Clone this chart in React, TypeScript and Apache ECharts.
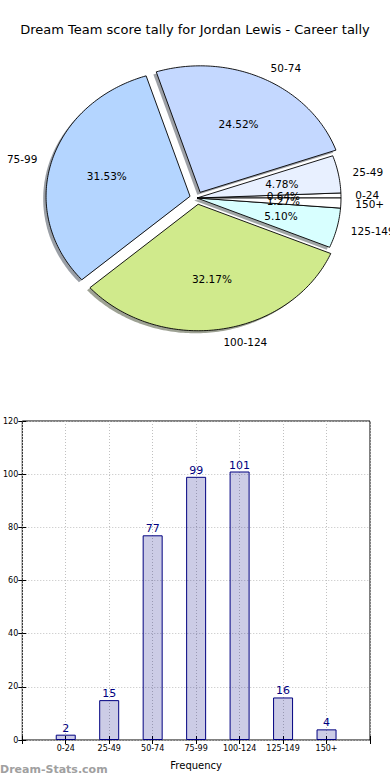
import React, { useEffect, useRef } from 'react';
import * as echarts from 'echarts';

const titleText = 'Dream Team score tally for Jordan Lewis - Career tally';
const categories = ['0-24', '25-49', '50-74', '75-99', '100-124', '125-149', '150+'];
const tallies = [2, 15, 77, 99, 101, 16, 4];
const sliceColors = ['#ffffff', '#e8f0ff', '#c4d8ff', '#b4d5ff', '#d0ea8c', '#d8ffff', '#ffffff'];
const sliceExplode = [0, 0, 0.05, 0.05, 0.05, 0, 0];
const xAxisName = 'Frequency';
const watermark = 'Dream-Stats.com';

const FONT = 'DejaVu Sans';
const CX = 197;
const CY = 198;
const RX = 144;
const RY = 126.5;

const total = tallies.reduce((a, b) => a + b, 0);

function sliceGeom(i: number) {
  let start = 0;
  for (let j = 0; j < i; j++) start += tallies[j];
  const a0 = (start / total) * 360;
  const a1 = ((start + tallies[i]) / total) * 360;
  const mid = (((a0 + a1) / 2) * Math.PI) / 180;
  const ex = sliceExplode[i];
  const ox = ex * RX * Math.cos(mid);
  const oy = -ex * RY * Math.sin(mid);
  return { a0, a1, mid, ox, oy };
}

function wedgePoints(i: number, dx: number, dy: number) {
  const g = sliceGeom(i);
  const cx = CX + g.ox + dx;
  const cy = CY + g.oy + dy;
  const pts: number[][] = [[cx, cy]];
  const n = Math.max(2, Math.ceil((g.a1 - g.a0) / 1));
  for (let k = 0; k <= n; k++) {
    const a = ((g.a0 + ((g.a1 - g.a0) * k) / n) * Math.PI) / 180;
    pts.push([cx + RX * Math.cos(a), cy - RY * Math.sin(a)]);
  }
  return pts;
}

function shadowColor(hex: string) {
  const r = parseInt(hex.slice(1, 3), 16) * 0.3;
  const g = parseInt(hex.slice(3, 5), 16) * 0.3;
  const b = parseInt(hex.slice(5, 7), 16) * 0.3;
  return `rgba(${Math.round(r)},${Math.round(g)},${Math.round(b)},0.5)`;
}

export default function App() {
  const ref = useRef<HTMLDivElement>(null);
  useEffect(() => {
    const chart = echarts.init(ref.current!, null, { renderer: 'svg' });
    const option: any = {
      animation: false,
      backgroundColor: '#ffffff',
      title: {
        text: titleText,
        left: 'center',
        top: 23,
        padding: 0,
        textStyle: { fontFamily: FONT, fontSize: 13, fontWeight: 'normal', color: '#000' },
      },
      grid: {
        left: 19,
        top: 421,
        width: 351,
        height: 319,
        show: true,
        borderColor: '#000',
        borderWidth: 1,
        backgroundColor: 'transparent',
      },
      xAxis: [
        {
          type: 'value',
          min: 0,
          max: 8,
          interval: 1,
          name: xAxisName,
          nameLocation: 'middle',
          nameGap: 20,
          nameTextStyle: { fontFamily: FONT, fontSize: 10, color: '#000' },
          axisLine: { show: false },
          axisTick: { show: true, inside: true, length: 4, lineStyle: { color: '#000' } },
          axisLabel: {
            fontFamily: FONT,
            fontSize: 8,
            color: '#000',
            margin: 4,
            formatter: (v: number) => categories[v - 1] ?? '',
          },
          splitLine: { show: true, lineStyle: { color: '#c0c0c0', type: [1, 2], width: 1 } },
        },
        {
          type: 'value',
          min: 0,
          max: 8,
          interval: 1,
          position: 'top',
          axisLine: { show: false },
          axisTick: { show: true, inside: true, length: 4, lineStyle: { color: '#000' } },
          axisLabel: { show: false },
          splitLine: { show: false },
        },
      ],
      yAxis: [
        {
          type: 'value',
          min: 0,
          max: 120,
          interval: 20,
          axisLine: { show: false },
          axisTick: { show: true, inside: true, length: 4, lineStyle: { color: '#000' } },
          axisLabel: { fontFamily: FONT, fontSize: 8, color: '#000', margin: 4 },
          splitLine: { show: true, lineStyle: { color: '#c0c0c0', type: [1, 2], width: 1 } },
        },
        {
          type: 'value',
          min: 0,
          max: 120,
          interval: 20,
          position: 'right',
          axisLine: { show: false },
          axisTick: { show: true, inside: true, length: 4, lineStyle: { color: '#000' } },
          axisLabel: { show: false },
          splitLine: { show: false },
        },
      ],
      series: [
        {
          type: 'custom',
          name: 'shadow',
          coordinateSystem: 'none',
          z: 1,
          silent: true,
          data: tallies.map((v) => [v]),
          renderItem: (params: any) => {
            const i = params.dataIndex;
            return {
              type: 'polygon',
              shape: { points: wedgePoints(i, -0.02 * RX, 0.02 * RY) },
              style: { fill: shadowColor(sliceColors[i]), stroke: 'none' },
            };
          },
        },
        {
          type: 'custom',
          name: 'pie',
          coordinateSystem: 'none',
          z: 2,
          silent: true,
          data: tallies.map((v) => [v]),
          renderItem: (params: any, api: any) => {
            const i = params.dataIndex;
            const value = api.value(0);
            const g = sliceGeom(i);
            const c = Math.cos(g.mid);
            const s = Math.sin(g.mid);
            const pct = ((value / total) * 100).toFixed(2) + '%';
            return {
              type: 'group',
              children: [
                {
                  type: 'polygon',
                  shape: { points: wedgePoints(i, 0, 0) },
                  style: { fill: sliceColors[i], stroke: '#000', lineWidth: 0.9 },
                },
                {
                  type: 'text',
                  z2: 10,
                  x: CX + g.ox + 0.6 * RX * c,
                  y: CY + g.oy - 0.6 * RY * s,
                  style: {
                    text: pct,
                    fill: '#000',
                    fontFamily: FONT,
                    fontSize: 10.5,
                    align: 'center',
                    verticalAlign: 'middle',
                  },
                },
                {
                  type: 'text',
                  z2: 10,
                  x: CX + g.ox + 1.1 * RX * c,
                  y: CY + g.oy - 1.1 * RY * s,
                  style: {
                    text: categories[i],
                    fill: '#000',
                    fontFamily: FONT,
                    fontSize: 10.5,
                    align: c > 0 ? 'left' : 'right',
                    verticalAlign: 'middle',
                  },
                },
              ],
            };
          },
        },
        {
          type: 'bar',
          name: 'tally',
          xAxisIndex: 0,
          yAxisIndex: 0,
          barWidth: 20,
          data: tallies.map((v, i) => [i + 1, v]),
          itemStyle: { color: 'rgba(0,0,128,0.2)', borderColor: '#000080', borderWidth: 1 },
          label: {
            show: true,
            position: 'top',
            distance: 1,
            color: '#000080',
            fontFamily: FONT,
            fontSize: 11,
          },
        },
      ],
      graphic: [
        {
          type: 'text',
          left: 0,
          top: 764,
          style: {
            text: watermark,
            fill: '#a0a0a0',
            fontFamily: FONT,
            fontSize: 11,
            fontWeight: 'bold',
          },
        },
      ],
    };
    chart.setOption(option);
    return () => chart.dispose();
  }, []);
  return (
    <div
      ref={ref}
      style={{ position: 'absolute', left: 0, top: 0, width: 390, height: 780 }}
    />
  );
}
